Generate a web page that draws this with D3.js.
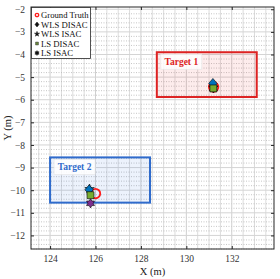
<!DOCTYPE html>
<html><head><meta charset="utf-8">
<script src="https://cdn.jsdelivr.net/npm/d3@7"></script>
<style>body{margin:0;background:#fff}svg{display:block}text{font-family:"Liberation Serif","Times New Roman",serif}</style>
</head><body><svg id="c" width="280" height="279"></svg>
<script>
const xTicks = [124, 126, 128, 130, 132];
const yTicks = [-12, -11, -10, -9, -8, -7, -6, -5, -4, -3, -2];
const targetNames = ["Target 1", "Target 2"];
const targetRectX = [[128.7, 133.1], [124.0, 128.4]];
const targetRectY = [[-5.88, -3.9], [-10.55, -8.55]];
const seriesNames = ["Ground Truth", "WLS DISAC", "WLS ISAC", "LS DISAC", "LS ISAC"];
const groundTruthX = [131.2, 126.0];
const groundTruthY = [-5.44, -10.15];
const wlsDisacX = [131.17, 125.72];
const wlsDisacY = [-5.28, -9.98];
const wlsIsacX = [131.19, 125.74];
const wlsIsacY = [-5.47, -9.95];
const lsDisacX = [131.19, 125.78];
const lsDisacY = [-5.5, -10.22];
const lsIsacX = [131.19, 125.78];
const lsIsacY = [-5.5, -10.58];

const svg = d3.select("#c");
const L = 31, R = 274, T = 7, B = 249;
const x = d3.scaleLinear().domain([123.16, 133.86]).range([L, R]);
const y = d3.scaleLinear().domain([-12.6, -1.9]).range([B, T]);

// grid
const g = svg.append("g");
const xMinor = d3.range(123.5, 133.86, 0.5).filter(v => Math.abs(v % 2) > 1e-6);
const yMinor = d3.range(-12.6, -1.9, 0.2).map(v => Math.round(v * 10) / 10).filter(v => Math.abs(v - Math.round(v)) > 1e-6);
g.selectAll(".xm").data(xMinor).join("line").attr("x1", d => x(d)).attr("x2", d => x(d)).attr("y1", T).attr("y2", B)
  .attr("stroke", "#dcdcdc").attr("stroke-width", 1);
g.selectAll(".ym").data(yMinor).join("line").attr("y1", d => y(d)).attr("y2", d => y(d)).attr("x1", L).attr("x2", R)
  .attr("stroke", "#b8b8b8").attr("stroke-width", 0.8).attr("stroke-dasharray", "1,1.5");
g.selectAll(".xM").data(xTicks).join("line").attr("x1", d => x(d)).attr("x2", d => x(d)).attr("y1", T).attr("y2", B)
  .attr("stroke", "#cfcfcf").attr("stroke-width", 1);
g.selectAll(".yM").data(yTicks).join("line").attr("y1", d => y(d)).attr("y2", d => y(d)).attr("x1", L).attr("x2", R)
  .attr("stroke", "#d4d4d4").attr("stroke-width", 1);

// target rects
const rectStroke = ["#dd2222", "#2f6bcc"];
const rectFill = ["rgba(235,40,40,0.09)", "rgba(40,110,220,0.09)"];
targetNames.forEach((n, i) => {
  svg.append("rect").attr("x", x(targetRectX[i][0])).attr("y", y(targetRectY[i][1]))
    .attr("width", x(targetRectX[i][1]) - x(targetRectX[i][0])).attr("height", y(targetRectY[i][0]) - y(targetRectY[i][1]))
    .attr("fill", rectFill[i]).attr("stroke", rectStroke[i]).attr("stroke-width", 2);
  const lx = x(targetRectX[i][0]) + 4, ly = y(targetRectY[i][1]) + 2;
  svg.append("rect").attr("x", lx).attr("y", ly).attr("width", 41).attr("height", 15)
    .attr("fill", "rgba(255,255,255,0.85)").attr("stroke", "#e6e6e6").attr("stroke-width", 0.6);
  svg.append("text").attr("x", lx + 20.5).attr("y", ly + 11).attr("text-anchor", "middle")
    .attr("font-size", 9.5).attr("font-weight", "bold").attr("fill", rectStroke[i]).text(n);
});

// markers
function hexagram(r) {
  let p = [];
  for (let k = 0; k < 12; k++) {
    const a = -Math.PI / 2 + k * Math.PI / 6;
    const rr = k % 2 === 0 ? r : r * 0.58;
    p.push([rr * Math.cos(a), rr * Math.sin(a)]);
  }
  return "M" + p.map(q => q.join(",")).join("L") + "Z";
}
function diamond(w, h) { return `M0,${-h}L${w},0L0,${h}L${-w},0Z`; }
const markerDefs = [
  {X: groundTruthX, Y: groundTruthY, path: () => d3.symbol(d3.symbolCircle, 70)(), fill: "none", stroke: "#ff1a1a", sw: 1.8, lpath: () => d3.symbol(d3.symbolCircle, 9)(), lfill: "none", lstroke: "#ff1a1a"},
  {X: wlsIsacX, Y: wlsIsacY, path: () => d3.symbol(d3.symbolStar, 28)(), fill: "#4DBEEE", stroke: "#000", sw: 0.6, lpath: () => d3.symbol(d3.symbolStar, 8)(), lfill: "#111", lstroke: "#111"},
  {X: lsIsacX, Y: lsIsacY, path: () => hexagram(4.6), fill: "#7E2F8E", stroke: "#000", sw: 0.6, lpath: () => hexagram(2.4), lfill: "#111", lstroke: "#111"},
  {X: wlsDisacX, Y: wlsDisacY, path: () => diamond(4.2, 5), fill: "#0072BD", stroke: "#000", sw: 0.6, lpath: () => diamond(2, 2.5), lfill: "#111", lstroke: "#111"},
  {X: lsDisacX, Y: lsDisacY, path: () => d3.symbol(d3.symbolSquare, 48)(), fill: "#77AC30", stroke: "#000", sw: 0.6, lpath: () => d3.symbol(d3.symbolSquare, 8)(), lfill: "#6a8a3a", lstroke: "#333"},
];
markerDefs.forEach(m => {
  svg.append("g").selectAll("path").data(m.X.map((v, i) => [v, m.Y[i]])).join("path")
    .attr("transform", d => `translate(${x(d[0])},${y(d[1])})`).attr("d", m.path())
    .attr("fill", m.fill).attr("stroke", m.stroke).attr("stroke-width", m.sw);
});

// axes box & ticks
svg.append("rect").attr("x", L).attr("y", T).attr("width", R - L).attr("height", B - T)
  .attr("fill", "none").attr("stroke", "#262626").attr("stroke-width", 1);
const ax = svg.append("g").attr("transform", `translate(0,${B})`)
  .call(d3.axisBottom(x).tickValues(xTicks).tickSizeInner(-3).tickSizeOuter(0).tickPadding(6));
const axT = svg.append("g").attr("transform", `translate(0,${T})`)
  .call(d3.axisTop(x).tickValues(xTicks).tickSizeInner(-3).tickSizeOuter(0).tickFormat(""));
const ay = svg.append("g").attr("transform", `translate(${L},0)`)
  .call(d3.axisLeft(y).tickValues(yTicks).tickSizeInner(-3).tickSizeOuter(0).tickPadding(6));
const ayR = svg.append("g").attr("transform", `translate(${R},0)`)
  .call(d3.axisRight(y).tickValues(yTicks).tickSizeInner(-3).tickSizeOuter(0).tickFormat(""));
[ax, axT, ay, ayR].forEach(a => {
  a.select(".domain").remove();
  a.selectAll("line").attr("stroke", "#262626");
  a.selectAll("text").attr("font-family", '"Liberation Serif",serif').attr("font-size", 9.5).attr("fill", "#333");
});

svg.append("text").attr("x", (L + R) / 2).attr("y", 275).attr("text-anchor", "middle")
  .attr("font-size", 10.5).attr("fill", "#222").text("X (m)");
svg.append("text").attr("transform", `translate(11,${(T + B) / 2}) rotate(-90)`).attr("text-anchor", "middle")
  .attr("font-size", 10.5).attr("fill", "#222").text("Y (m)");

// legend
const lg = svg.append("g");
lg.append("rect").attr("x", L + 0.5).attr("y", T + 0.5).attr("width", 59).attr("height", 51)
  .attr("fill", "#fff").attr("stroke", "#262626").attr("stroke-width", 0.8);
const legOrder = [0, 3, 1, 4, 2];
legOrder.forEach((mi, k) => {
  const m = markerDefs[mi];
  const yy = 15 + k * 9.5;
  lg.append("path").attr("transform", `translate(37,${yy})`).attr("d", m.lpath())
    .attr("fill", m.lfill).attr("stroke", m.lstroke)
    .attr("stroke-width", mi === 0 ? 1.3 : 0.5);
  lg.append("text").attr("x", 41).attr("y", yy + 3).attr("font-size", 8.7).attr("fill", "#111").text(seriesNames[k]);
});
</script></body></html>
